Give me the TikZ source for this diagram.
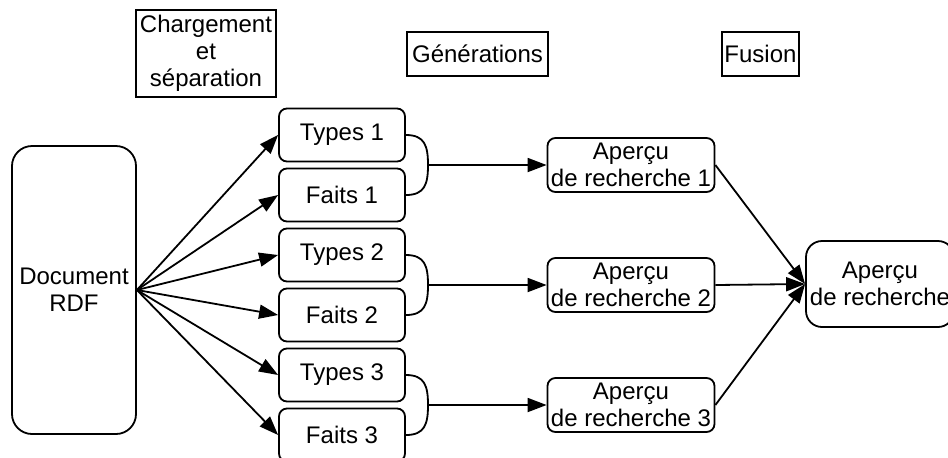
\documentclass[tikz,border=0pt]{standalone}
\usepackage{fontspec}
\setmainfont{Liberation Sans}
\usetikzlibrary{positioning, arrows.meta}
\begin{document}
\begin{tikzpicture}[x=0.5pt, y=-0.5pt, font=\fontsize{12}{13.5}\selectfont,
  >={Triangle[length=9.5pt, width=7pt]},
  bx/.style={draw, line width=0.9pt, align=center, inner sep=1pt},
  phase/.style={bx, line width=0.7pt, minimum height=22pt},
  part/.style={bx, rounded corners=4pt, minimum width=63pt, minimum height=26.5pt},
  apercu/.style={bx, rounded corners=4pt, minimum width=83.5pt, minimum height=27pt},
  pairjoin/.style={draw, line width=0.9pt},
  a/.style={->, line width=0.9pt}]
\useasboundingbox (0,0) rectangle (948,457);
% Phase headers.
\node[phase, minimum width=70pt, minimum height=43.5pt] (load) at (206,53.5) {Chargement\\et\\séparation};
\node[phase, minimum width=70.5pt] (gen) at (477.5,54) {Générations};
\node[phase, minimum width=38.5pt] (fusion) at (760.5,54) {Fusion};
% Source document.
\node[bx, rounded corners=10pt, minimum width=62pt, minimum height=144pt] (doc) at (74,290) {Document\\RDF};
% Split parts.
\node[part] (types1) at (342,135) {Types 1};
\node[part, below=2.6pt of types1] (faits1) {Faits 1};
\node[part, below=2.6pt of faits1] (types2) {Types 2};
\node[part, below=2.6pt of types2] (faits2) {Faits 2};
\node[part, below=2.6pt of faits2] (types3) {Types 3};
\node[part, below=2.6pt of types3] (faits3) {Faits 3};
% Generated previews.
\node[apercu] (ap1) at (631,165) {Aperçu\\de recherche 1};
\node[apercu] (ap2) at (631,285) {Aperçu\\de recherche 2};
\node[apercu] (ap3) at (631,405) {Aperçu\\de recherche 3};
% Merged preview.
\node[bx, rounded corners=8pt, minimum width=74pt, minimum height=43pt] (final) at (880,284) {Aperçu\\de recherche};
% Loading and splitting.
\draw[a] (doc.east)--(types1.west); \draw[a] (doc.east)--(faits1.west);
\draw[a] (doc.east)--(types2.west); \draw[a] (doc.east)--(faits2.west);
\draw[a] (doc.east)--(types3.west); \draw[a] (doc.east)--(faits3.west);
% Each pair is joined before generation.
\coordinate (j1) at (428,165);
\coordinate (j2) at (428,285);
\coordinate (j3) at (428,405);
\draw[pairjoin] (types1.east) to[out=0, in=90, looseness=1.3] (j1) to[out=-90, in=0, looseness=1.3] (faits1.east);
\draw[pairjoin] (types2.east) to[out=0, in=90, looseness=1.3] (j2) to[out=-90, in=0, looseness=1.3] (faits2.east);
\draw[pairjoin] (types3.east) to[out=0, in=90, looseness=1.3] (j3) to[out=-90, in=0, looseness=1.3] (faits3.east);
\draw[a] (j1)--(ap1.west); \draw[a] (j2)--(ap2.west); \draw[a] (j3)--(ap3.west);
% Fusion.
\draw[a] (ap1.east)--(final.west); \draw[a] (ap2.east)--(final.west);
\draw[a] (ap3.east)--(final.west);
\end{tikzpicture}
\end{document}
